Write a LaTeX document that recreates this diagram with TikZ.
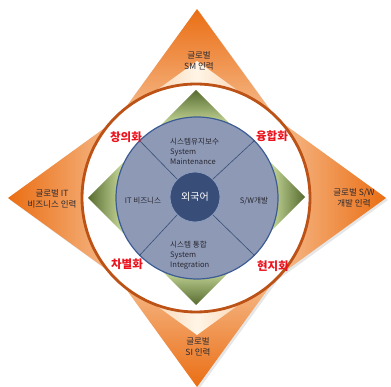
\documentclass[tikz,border=0pt]{standalone}
\usepackage{fontspec}
\newfontfamily\kr{Noto Sans CJK KR}
\definecolor{oDark}{RGB}{234,110,20}
\definecolor{oMid}{RGB}{253,222,175}
\definecolor{oLight}{RGB}{255,245,230}
\definecolor{gDark}{RGB}{88,108,48}
\definecolor{gLight}{RGB}{210,228,165}
\definecolor{brownR}{RGB}{188,82,22}
\definecolor{blueF}{RGB}{142,153,182}
\definecolor{blueB}{RGB}{62,92,148}
\definecolor{navy}{RGB}{56,78,120}
\definecolor{redT}{RGB}{235,20,30}
\definecolor{txt}{RGB}{40,40,48}
\tikzset{
  shadowtri/.style={fill=black!45, opacity=0.22},
  seg/.style={inner sep=0pt, text=txt, align=left, font=\kr\fontsize{7.6}{10}\selectfont},
  olab/.style={inner sep=0pt, text=txt, align=center, font=\kr\fontsize{8.5}{11.5}\selectfont},
  rlab/.style={inner sep=0pt, text=redT, font=\kr\bfseries\fontsize{11.5}{14}\selectfont},
  divider/.style={draw=navy, line width=0.6pt}
}
\begin{document}
\begin{tikzpicture}[x=1pt,y=-1pt]
\useasboundingbox (0,0) rectangle (391,387);
% shadows of orange triangles
\fill[shadowtri] (199,11) -- (62,200) -- (336,200) -- cycle;
\fill[shadowtri] (199,389) -- (62,200) -- (336,200) -- cycle;
\fill[shadowtri] (10,200) -- (199,63) -- (199,337) -- cycle;
\fill[shadowtri] (388,200) -- (199,63) -- (199,337) -- cycle;
% orange triangles
\shade[top color=oDark, middle color=oMid, bottom color=oLight] (197,9) -- (60,198) -- (334,198) -- cycle;
\shade[top color=oLight, middle color=oMid, bottom color=oDark] (197,387) -- (60,198) -- (334,198) -- cycle;
\shade[left color=oDark, middle color=oMid, right color=oLight] (8,198) -- (197,61) -- (197,335) -- cycle;
\shade[left color=oLight, middle color=oMid, right color=oDark] (386,198) -- (197,61) -- (197,335) -- cycle;
% white ring
\node[circle, minimum size=228pt, inner sep=0pt, fill=white, draw=brownR, line width=2.8pt] (ring) at (196,198) {};
% green triangles
\shade[top color=gDark, bottom color=gLight] (196,90) -- (158,128) -- (234,128) -- cycle;
\shade[top color=gLight, bottom color=gDark] (196,305) -- (158,267) -- (234,267) -- cycle;
\shade[left color=gDark, right color=gLight] (88,198) -- (126,160) -- (126,236) -- cycle;
\shade[left color=gLight, right color=gDark] (305,197) -- (267,159) -- (267,235) -- cycle;
% wheel
\node[circle, minimum size=162pt, inner sep=0pt, fill=blueF, draw=blueB, line width=1.2pt] (wheel) at (197,198) {};
\node[circle, minimum size=50pt, inner sep=0pt, fill=navy, draw=blueB!60!white, line width=0.8pt, text=white, font=\kr\fontsize{10}{12}\selectfont] (core) at (195,197) {외국어};
\draw[divider] (core.45) -- (wheel.45);
\draw[divider] (core.135) -- (wheel.135);
\draw[divider] (core.225) -- (wheel.225);
\draw[divider] (core.315) -- (wheel.315);
% segment labels
\node[seg, anchor=west] (maint) at (170,151) {시스템유지보수\\System\\Maintenance};
\node[seg, anchor=west] (integ) at (170,255) {시스템 통합\\System\\Integration};
\node[seg] (itbiz) at (143,201) {IT 비즈니스};
\node[seg] (swdev) at (254,201) {S/W개발};
% outer labels
\node[olab] (sm) at (199,61) {글로벌\\SM 인력};
\node[olab] (itp) at (52,199) {글로벌 IT\\비즈니스 인력};
\node[olab] (swp) at (354,198) {글로벌 S/W\\개발 인력};
\node[olab] (sip) at (198,347) {글로벌\\SI 인력};
% red labels
\node[rlab] (cre) at (126,137) {창의화};
\node[rlab] (fus) at (272,136) {융합화};
\node[rlab] (dif) at (127,264) {차별화};
\node[rlab] (loc) at (273,266) {현지화};
\end{tikzpicture}
\end{document}
